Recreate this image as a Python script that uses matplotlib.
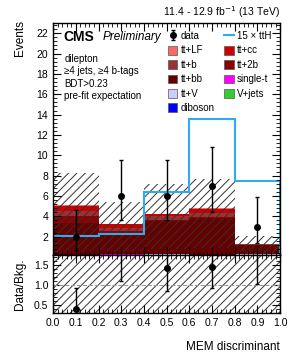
import matplotlib
matplotlib.use('Agg')
import matplotlib.pyplot as plt
import numpy as np
from matplotlib.ticker import MultipleLocator
from matplotlib.patches import Patch
from matplotlib.lines import Line2D

plt.rcParams['font.family'] = ['Liberation Sans', 'DejaVu Sans']
plt.rcParams['hatch.linewidth'] = 0.7

# bins of the MEM discriminant
edges = [0.0, 0.2, 0.4, 0.6, 0.8, 1.0]
centers = [0.1, 0.3, 0.5, 0.7, 0.9]

# stacked backgrounds, bottom to top
diboson = [0.0, 0.0, 0.0, 0.0, 0.0]
vjets = [0.0, 0.0, 0.0, 0.0, 0.0]
ttv = [0.1, 0.1, 0.28, 0.1, 0.28]
singlet = [0.1, 0.2, 0.0, 0.1, 0.0]
ttbb = [3.1, 2.0, 3.22, 3.6, 0.87]
tt2b = [0.7, 0.25, 0.1, 0.1, 0.05]
ttb = [0.5, 0.35, 0.4, 0.4, 0.05]
ttcc = [0.5, 0.3, 0.2, 0.45, 0.05]
ttlf = [0.1, 0.07, 0.05, 0.1, 0.03]

# uncertainty band (main panel) and ratio band
band_lo = [0.5, 0.5, 0.8, 0.9, 0.3]
band_hi = [8.3, 5.4, 7.2, 7.7, 2.1]
ratio_band_lo = [0.0, 0.0, 0.0, 0.0, 0.0]
ratio_band_hi = [2.0, 2.0, 2.0, 2.0, 2.0]

# 15 x ttH signal
tth = [2.05, 2.25, 6.4, 13.55, 7.5]

# data with asymmetric poisson errors
data = [2, 6, 6, 7, 3]
err_lo = [1.29, 2.38, 2.38, 2.58, 1.63]
err_hi = [2.64, 3.58, 3.58, 3.77, 2.92]

stack = [
    ('diboson', diboson, '#0000ff'),
    ('V+jets', vjets, '#33cc33'),
    ('tt+V', ttv, '#ccccff'),
    ('single-t', singlet, '#ff00ff'),
    ('tt+bb', ttbb, '#660000'),
    ('tt+2b', tt2b, '#8b0000'),
    ('tt+b', ttb, '#993333'),
    ('tt+cc', ttcc, '#cc0000'),
    ('tt+LF', ttlf, '#ff6666'),
]
colors = {name: c for name, v, c in stack}

fig = plt.figure(figsize=(2.95, 3.57), dpi=100)
ax = fig.add_axes([0.18, 0.2857, 0.7695, 0.6499])
rax = fig.add_axes([0.18, 0.1241, 0.7695, 0.1616])

bottom = np.zeros(5)
for name, vals, col in stack:
    ax.bar(centers, vals, width=0.2, bottom=bottom, color=col, linewidth=0)
    bottom += np.array(vals)
total = bottom.copy()

ax.bar(centers, np.array(band_hi) - np.array(band_lo), width=0.2, bottom=band_lo,
       facecolor='none', edgecolor='#333333', hatch='////', linewidth=0)
ax.stairs(tth, edges, color='#33aaee', linewidth=1.5)
eb = ax.errorbar(centers, data, yerr=[err_lo, err_hi], fmt='o', color='black',
                 markersize=4, elinewidth=1, capsize=1.5)

ax.set_xlim(0, 1)
ax.set_ylim(0.2, 23)
ax.set_xticklabels([])

# ratio panel
rax.bar(centers, np.array(ratio_band_hi) - np.array(ratio_band_lo), width=0.2,
        bottom=ratio_band_lo, facecolor='none', edgecolor='#333333',
        hatch='////', linewidth=0)
rax.axhline(1.0, color='#999999', linestyle='--', linewidth=0.8)
ratio = np.array(data) / total
rax.errorbar(centers, ratio, yerr=[np.array(err_lo) / total, np.array(err_hi) / total],
             fmt='o', color='black', markersize=4, elinewidth=1, capsize=1.5)
rax.set_xlim(0, 1)
rax.set_ylim(0.3, 1.75)

for a in (ax, rax):
    a.xaxis.set_major_locator(MultipleLocator(0.1))
    a.xaxis.set_minor_locator(MultipleLocator(0.02))
    a.tick_params(which='both', direction='in', top=True, right=True, labelsize=7.5)
    a.tick_params(which='major', length=6, width=0.8)
    a.tick_params(which='minor', length=3, width=0.6)
    for s in a.spines.values():
        s.set_linewidth(1.0)
ax.yaxis.set_major_locator(MultipleLocator(2))
ax.yaxis.set_minor_locator(MultipleLocator(0.4))
ax.set_yticks([2, 4, 6, 8, 10, 12, 14, 16, 18, 20, 22])
rax.set_yticks([0.5, 1.0, 1.5])
rax.yaxis.set_minor_locator(MultipleLocator(0.1))
rax.set_xticks(np.round(np.arange(0, 1.01, 0.1), 1))
rax.set_xticklabels(['%.1f' % v for v in np.arange(0, 1.01, 0.1)])

# labels and texts
fig.text(0.949, 0.966, '11.4 - 12.9 fb$^{-1}$ (13 TeV)', ha='right', va='center', fontsize=7.5)
fig.text(0.068, 0.945, 'Events', rotation=90, ha='center', va='top', fontsize=8.5)
fig.text(0.068, 0.204, 'Data/Bkg.', rotation=90, ha='center', va='center', fontsize=8.5)
fig.text(0.949, 0.028, 'MEM discriminant', ha='right', va='center', fontsize=8.5)

ax.text(0.045, 0.94, 'CMS', transform=ax.transAxes, fontsize=10, fontweight='bold', va='center')
ax.text(0.22, 0.94, 'Preliminary', transform=ax.transAxes, fontsize=8.5, style='italic', va='center')
for txt, yy in [('dilepton', 0.845), ('\u22654 jets, \u22654 b-tags', 0.793),
                ('BDT>0.23', 0.737), ('pre-fit expectation', 0.685)]:
    ax.text(0.05, yy, txt, transform=ax.transAxes, fontsize=7, va='center')

def box(name):
    return Patch(facecolor=colors[name], edgecolor='#555555', linewidth=0.5)

handles = [eb, box('tt+LF'), box('tt+b'), box('tt+bb'), box('tt+V'), box('diboson'),
           Line2D([], [], color='#33aaee', linewidth=1.5),
           box('tt+cc'), box('tt+2b'), box('single-t'), box('V+jets')]
labels = ['data', 'tt+LF', 'tt+b', 'tt+bb', 'tt+V', 'diboson',
          '15 \u00d7 ttH', 'tt+cc', 'tt+2b', 'single-t', 'V+jets']
ax.legend(handles, labels, ncol=2, loc='upper left', bbox_to_anchor=(0.505, 0.965),
          frameon=False, fontsize=7, borderpad=0, borderaxespad=0,
          handlelength=1.0, handleheight=1.0, handletextpad=0.3,
          labelspacing=0.45, columnspacing=1.0)

fig.savefig('out.png', dpi=100)
